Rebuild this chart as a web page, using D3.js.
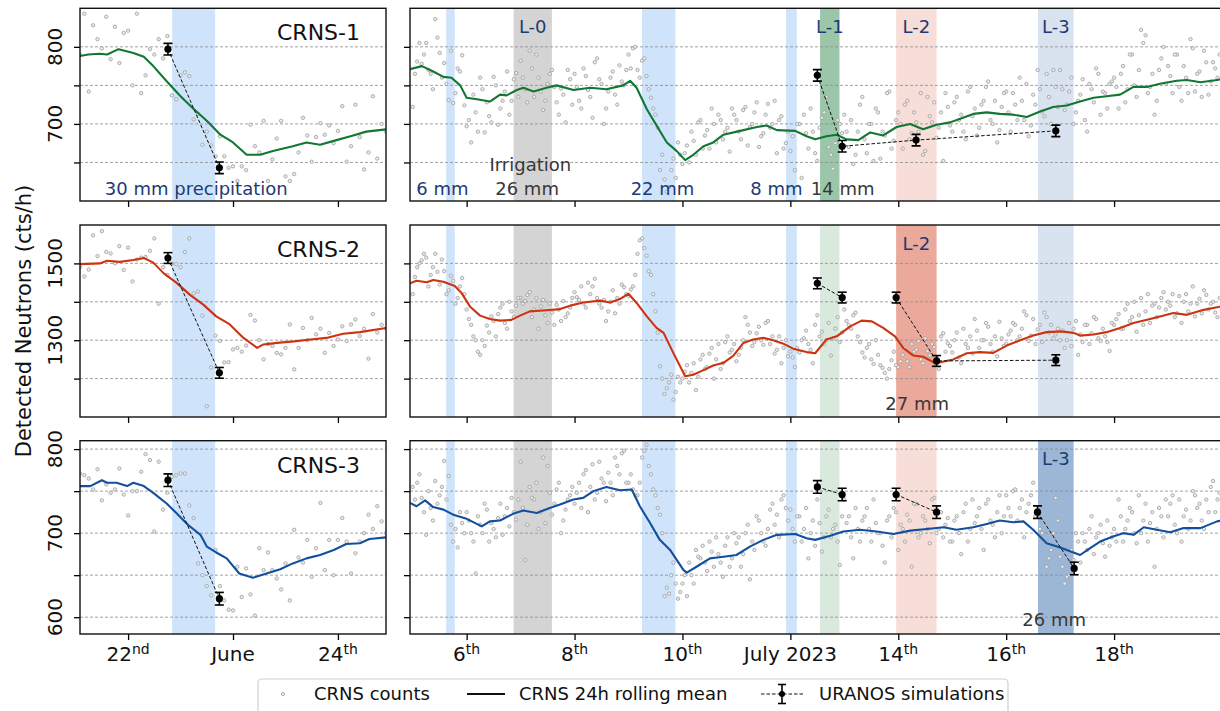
<!DOCTYPE html>
<html><head><meta charset="utf-8">
<script src="https://cdn.jsdelivr.net/npm/d3@7"></script>
<style>body{margin:0;background:#fff;overflow:hidden} svg{font-family:"DejaVu Sans",sans-serif;display:block}</style>
</head><body><svg id="c" width="1220" height="711"></svg>
<script>
// ---------------- DATA ----------------
// y-axis ticks per row
const yTicks1 = [650, 700, 750, 800], yLabels1 = [700, 800];
const yTicks2 = [1200, 1300, 1400, 1500], yLabels2 = [1300, 1500];
const yTicks3 = [600, 650, 700, 750, 800], yLabels3 = [600, 700, 800];
// x ticks (day of month) and labels [main, superscript]
const xTicksL = [22, 23, 24];
const xTickLabelsL = [["22", "nd"], ["June", ""], ["24", "th"]];
const xTicksR = [6, 8, 10, 12, 14, 16, 18];
const xTickLabelsR = [["6", "th"], ["8", "th"], ["10", "th"], ["July 2023", ""], ["14", "th"], ["16", "th"], ["18", "th"]];

// shaded periods (day of month)
const rainBandL = [22.42, 22.83];                       // June, 30 mm
const rainBandsR = [[5.62, 5.78], [9.25, 9.87], [11.92, 12.12]]; // July
const irrigNames = ["L-0", "L-1", "L-2", "L-3"];
const irrigBands = [[6.87, 7.58], [12.55, 12.91], [13.96, 14.71], [16.59, 17.25]];

// hourly CRNS counts, left panels: start June 21 13:00, 1 h step
const cnt1L = [790,843,742,828,810,798,839,784,826,779,818,821,750,843,740,763,797,790,810,785,814,737,732,763,767,762,706,713,673,690,672,658,684,658,643,645,626,645,640,699,671,663,704,626,654,681,704,632,626,635,663,708,685,651,683,701,686,698,675,691,723,651,671,725,683,641,663,736,655,700,690];
const cnt2L = [1490,1466,1484,1573,1519,1584,1530,1526,1500,1545,1483,1541,1453,1510,1515,1517,1533,1565,1395,1490,1470,1500,1498,1490,1530,1565,1422,1427,1364,1128,1229,1312,1298,1242,1243,1276,1280,1270,1286,1366,1351,1300,1250,1290,1285,1267,1263,1280,1341,1224,1280,1332,1300,1358,1315,1330,1267,1319,1285,1302,1336,1298,1341,1354,1311,1330,1252,1368,1320,1340,1330];
const cnt3L = [771,769,765,752,776,739,758,748,752,777,746,721,750,750,773,794,787,702,785,728,748,767,769,771,771,733,718,664,650,637,626,680,637,620,609,608,660,624,658,627,602,682,656,677,656,646,633,664,620,704,671,665,692,648,682,736,656,692,650,692,718,690,652,676,690,700,722,705,732,714,700];

// CRNS counts, right panels, even hours: start July 5 00:00, 2 h step
const cnt1R = [
722,781,778,805,765,836,792,779,731,727,772,789,
697,676,715,760,689,710,761,699,730,768,730,766,
782,745,795,735,760,718,752,770,728,746,702,758,
765,730,772,744,708,785,752,720,760,738,776,750,
790,798,770,782,762,734,712,640,628,618,655,676,
648,672,690,660,705,685,668,700,712,680,695,720,
705,680,722,696,715,670,688,726,700,662,710,675,
665,640,700,712,668,690,652,708,735,660,675,700,
712,670,648,690,735,662,700,720,655,685,742,678,
715,668,730,688,702,740,665,710,728,695,652,722,
690,735,712,680,748,720,695,730,755,700,676,722,
742,690,725,760,705,684,738,770,716,765,700,748,
770,718,742,700,730,758,690,745,772,712,740,752,
760,720,775,745,790,735,822,815,748,712,770,800,
775,740,790,730,760,810,742,768,795,738,780,760];
const cnt2R = [
1420,1490,1508,1515,1470,1525,1445,1480,1430,1455,1410,1462,
1380,1340,1300,1262,1285,1320,1350,1368,1395,1330,1375,1390,
1410,1402,1425,1380,1330,1405,1345,1372,1392,1350,1360,1385,
1425,1405,1395,1450,1440,1410,1385,1350,1400,1370,1395,1438,
1415,1440,1525,1565,1520,1470,1375,1232,1160,1190,1145,1205,
1200,1235,1215,1170,1250,1225,1265,1200,1290,1240,1310,1275,
1245,1280,1360,1320,1295,1335,1288,1350,1310,1275,1240,1300,
1270,1230,1268,1305,1290,1240,1365,1322,1300,1260,1330,1295,
1380,1340,1365,1310,1268,1280,1250,1300,1235,1215,1225,1270,
1230,1262,1245,1290,1275,1250,1305,1260,1282,1225,1318,1292,
1268,1320,1240,1290,1310,1355,1280,1300,1335,1270,1258,1305,
1290,1325,1340,1310,1375,1298,1355,1328,1295,1360,1340,1315,
1300,1280,1345,1330,1262,1295,1340,1318,1355,1298,1310,1272,
1340,1368,1330,1395,1360,1322,1410,1375,1345,1395,1385,1425,
1400,1420,1370,1345,1420,1395,1362,1408,1430,1380,1400,1360];
const cnt3R = [
755,760,742,698,730,762,745,786,768,690,683,712,
725,700,652,710,735,690,705,718,698,730,742,716,
785,668,755,740,705,790,780,722,752,700,728,745,
735,760,770,725,782,748,765,738,760,790,770,798,
760,752,745,790,805,770,745,722,625,628,665,622,
640,625,650,680,670,665,690,660,675,648,695,670,
688,660,700,645,680,715,690,705,735,722,740,730,
728,690,720,705,670,715,740,678,720,695,710,662,
740,720,670,705,715,730,690,712,700,665,720,730,
680,705,722,660,735,700,715,688,742,705,695,718,
690,720,675,735,705,712,730,680,740,710,725,700,
745,720,752,730,695,735,760,725,700,660,680,742,
672,640,650,668,690,700,680,720,695,710,672,685,
705,740,690,715,725,688,700,735,712,660,730,695,
720,745,700,690,728,715,745,735,705,725,762,740];
// CRNS counts, right panels, odd hours: start July 5 01:00, 2 h step
const cnt1Rodd = [
765,805,790,770,745,812,760,752,795,740,768,724,
705,738,690,745,728,702,750,720,742,712,758,735,
760,728,772,790,742,730,765,748,712,738,770,725,
748,720,762,735,780,758,700,742,768,725,755,770,
772,800,760,785,745,720,695,660,612,640,630,660,
662,650,678,702,668,692,720,676,705,690,664,712,
690,718,672,700,728,684,712,695,730,705,668,690,
684,700,630,688,720,662,695,715,670,642,705,688,
690,705,660,725,680,700,652,715,690,740,668,705,
700,725,680,715,690,660,735,702,682,715,740,698,
728,705,690,742,710,685,725,748,705,730,692,740,
715,740,705,730,752,698,725,745,710,735,770,722,
745,725,760,715,738,705,752,728,765,742,720,755,
748,765,728,790,750,770,805,740,765,730,785,752,
762,790,748,775,740,798,765,735,780,755,772,790];
const cnt2Rodd = [
1465,1500,1525,1440,1490,1478,1510,1420,1468,1395,1440,1420,
1355,1310,1270,1300,1338,1362,1310,1385,1345,1400,1360,1410,
1395,1418,1360,1410,1388,1365,1395,1340,1380,1402,1370,1410,
1412,1440,1385,1420,1460,1395,1405,1375,1430,1410,1445,1420,
1432,1470,1560,1540,1480,1420,1320,1200,1175,1210,1165,1190,
1218,1190,1240,1205,1262,1230,1280,1250,1225,1295,1268,1290,
1262,1300,1340,1285,1318,1300,1345,1290,1265,1310,1280,1258,
1255,1280,1300,1325,1275,1340,1310,1290,1345,1305,1360,1320,
1350,1330,1372,1295,1255,1290,1238,1262,1228,1200,1248,1235,
1245,1280,1230,1270,1298,1240,1272,1290,1255,1310,1270,1285,
1300,1255,1330,1280,1265,1325,1300,1345,1290,1310,1348,1285,
1315,1345,1300,1330,1365,1312,1290,1340,1372,1320,1305,1330,
1325,1300,1285,1350,1315,1340,1290,1360,1305,1330,1295,1345,
1355,1330,1380,1350,1400,1365,1340,1420,1390,1360,1410,1380,
1390,1360,1415,1400,1375,1440,1395,1370,1418,1395,1372,1410];
const cnt3Rodd = [
740,770,725,750,715,735,755,740,710,705,725,700,
715,690,720,700,728,712,695,735,720,708,725,740,
730,710,742,760,725,712,748,735,760,715,740,755,
748,730,775,755,740,785,760,772,745,780,795,760,
770,745,760,798,780,752,730,700,635,650,640,630,
650,665,640,672,685,655,678,695,665,685,660,700,
695,675,710,690,720,700,685,728,710,695,745,715,
705,720,690,730,700,685,712,695,728,705,690,720,
712,695,730,690,720,705,740,700,685,715,695,725,
710,690,715,735,695,720,705,740,700,725,710,690,
715,700,725,690,740,720,705,735,715,695,745,720,
730,750,715,740,725,745,720,705,690,670,700,715,
660,648,680,700,665,690,705,675,700,688,715,695,
690,720,705,730,700,745,715,690,725,705,720,740,
735,710,740,720,705,750,730,715,740,755,725,748];

// 24 h rolling means (day of month, value)
const mean1L_t = [21.54,21.62,21.73,21.80,21.91,22.05,22.15,22.24,22.37,22.50,22.62,22.75,22.88,23.00,23.13,23.26,23.38,23.57,23.70,23.83,23.96,24.12,24.27,24.46];
const mean1L_v = [788,790,791,790,797,792,787,775,755,736,720,704,686,676,660,660,665,671,676,673,678,684,690,693];
const mean1R_t = [4.95,5.17,5.38,5.57,5.72,5.88,6.00,6.19,6.43,6.62,6.74,6.93,7.05,7.24,7.48,7.67,7.98,8.29,8.59,8.90,9.03,9.15,9.34,9.52,9.71,9.89,10.05,10.20,10.39,10.57,10.76,11.07,11.38,11.56,11.75,12.09,12.30,12.46,12.67,12.86,13.04,13.26,13.48,13.72,13.97,14.22,14.46,14.71,14.96,15.20,15.39,15.64,15.88,16.13,16.38,16.63,16.87,17.12,17.37,17.62,17.86,18.11,18.36,18.61,18.85,19.16,19.35,19.60,19.91,20.0];
const mean1R_v = [771,775,768,761,760,750,734,732,729,738,737,744,747,742,747,750,744,747,745,750,756,747,719,698,676,665,653,660,671,676,686,691,696,698,692,691,684,680,684,686,680,679,689,685,696,700,693,699,702,708,713,715,713,712,709,716,722,724,729,734,736,738,748,748,752,756,757,754,757,758];
const mean2L_t = [21.54,21.73,21.80,21.92,22.05,22.15,22.24,22.34,22.46,22.59,22.72,22.84,22.97,23.10,23.23,23.29,23.42,23.58,23.74,23.89,24.05,24.21,24.46];
const mean2L_v = [1498,1500,1507,1504,1509,1514,1502,1474,1450,1418,1392,1362,1341,1306,1280,1289,1293,1297,1302,1306,1317,1321,1332];
const mean2R_t = [4.95,5.07,5.26,5.38,5.57,5.78,5.91,6.06,6.25,6.43,6.62,6.83,6.99,7.17,7.48,7.73,7.92,8.16,8.47,8.66,8.84,9.00,9.15,9.34,9.52,9.65,9.83,10.05,10.20,10.39,10.57,10.76,10.94,11.13,11.31,11.50,11.68,11.87,12.05,12.30,12.46,12.67,12.86,13.11,13.32,13.51,13.72,13.94,14.09,14.28,14.46,14.65,14.80,15.02,15.27,15.51,15.76,16.01,16.26,16.50,16.75,17.01,17.25,17.37,17.62,17.86,18.11,18.36,18.61,18.85,19.10,19.35,19.66,19.91,20.0];
const mean2R_v = [1448,1455,1451,1457,1452,1441,1422,1388,1364,1355,1351,1353,1364,1375,1378,1381,1390,1398,1403,1398,1407,1421,1397,1362,1332,1319,1267,1206,1210,1222,1234,1241,1259,1293,1302,1306,1300,1291,1278,1269,1266,1302,1310,1336,1351,1349,1332,1310,1280,1260,1257,1243,1243,1250,1266,1269,1267,1286,1300,1312,1321,1323,1319,1312,1315,1321,1332,1345,1353,1362,1371,1366,1379,1386,1388];
const mean3L_t = [21.54,21.64,21.75,21.80,21.89,21.99,22.05,22.15,22.24,22.37,22.46,22.57,22.69,22.75,22.84,22.94,23.06,23.19,23.32,23.45,23.57,23.70,23.83,23.96,24.08,24.21,24.30,24.46];
const mean3L_v = [756,756,763,760,760,756,760,756,748,735,724,710,698,684,677,670,652,647,652,657,664,670,674,680,687,688,693,695];
const mean3R_t = [4.95,5.07,5.23,5.38,5.57,5.75,6.00,6.28,6.43,6.62,6.86,7.05,7.30,7.54,7.73,7.98,8.16,8.35,8.59,8.84,9.06,9.21,9.40,9.58,9.77,10.02,10.08,10.26,10.51,10.76,11.00,11.25,11.50,11.75,12.09,12.30,12.46,12.74,12.98,13.29,13.60,13.91,14.22,14.53,14.84,15.08,15.39,15.64,15.88,16.13,16.32,16.50,16.75,17.00,17.37,17.55,17.74,17.98,18.17,18.36,18.55,18.79,19.04,19.29,19.60,19.91,20.0];
const mean3R_v = [736,732,739,731,728,722,717,708,714,715,723,727,724,730,734,740,742,750,755,751,752,732,712,692,680,656,653,660,670,672,674,684,692,698,699,694,692,697,702,704,702,699,703,705,707,704,707,711,715,713,714,704,688,683,674,682,690,696,700,698,707,704,701,706,706,714,715];

// URANOS simulations: segments of (day, value)
const sim1L_t = [[22.38, 22.87]], sim1L_v = [[797, 643]];
const sim1R_t = [[12.50, 12.96, 14.33, 16.92]], sim1R_v = [[763, 671, 679, 691]];
const sim2L_t = [[22.38, 22.87]], sim2L_v = [[1514, 1215]];
const sim2R_t = [[12.50, 12.96], [13.96, 14.71, 16.92]], sim2R_v = [[1448, 1411], [1411, 1246, 1248]];
const sim3L_t = [[22.38, 22.87]], sim3L_v = [[763, 622]];
const sim3R_t = [[12.50, 12.96], [13.96, 14.71], [16.58, 17.26]], sim3R_v = [[755, 746], [746, 725], [725, 658]];
const simErr = [7.5, 14, 7.5];

// ---------------- DRAWING ----------------
const svg = d3.select("#c");
const toDate = (m, d) => new Date(Date.UTC(2023, m, 1) + (d - 1) * 864e5);
const JUNE = 5, JULY = 6;
const xL = d3.scaleUtc().domain([toDate(JUNE, 21 + 13 / 24), toDate(JUNE, 24 + 11 / 24)]).range([80, 386]);
const xR = d3.scaleUtc().domain([toDate(JULY, 4.95), toDate(JULY, 20)]).range([410, 1222]);
const HOUR = 3600e3;
const cntStartL = toDate(JUNE, 21 + 13 / 24), cntStartR = toDate(JULY, 5);

const NAVY = "#1d3b72", DGREY = "#383838";
const irrigColors = ["#bdbdbd", "#117733", "#CC3311", "#12509e"];

const panels = [
  { name: "CRNS-1", top: 8.3, bottom: 201, domain: [600, 850], yTicks: yTicks1, yLabels: yLabels1, color: "#117733",
    cntL: cnt1L, cntR: cnt1R, cntRodd: cnt1Rodd, meanL: [mean1L_t, mean1L_v], meanR: [mean1R_t, mean1R_v],
    simL: [sim1L_t, sim1L_v], simR: [sim1R_t, sim1R_v], err: simErr[0], active: 1, lLabels: [0, 1, 2, 3] },
  { name: "CRNS-2", top: 225, bottom: 417, domain: [1100, 1600], yTicks: yTicks2, yLabels: yLabels2, color: "#CC3311",
    cntL: cnt2L, cntR: cnt2R, cntRodd: cnt2Rodd, meanL: [mean2L_t, mean2L_v], meanR: [mean2R_t, mean2R_v],
    simL: [sim2L_t, sim2L_v], simR: [sim2R_t, sim2R_v], err: simErr[1], active: 2, lLabels: [2] },
  { name: "CRNS-3", top: 440.7, bottom: 634, domain: [580, 810], yTicks: yTicks3, yLabels: yLabels3, color: "#12509e",
    cntL: cnt3L, cntR: cnt3R, cntRodd: cnt3Rodd, meanL: [mean3L_t, mean3L_v], meanR: [mean3R_t, mean3R_v],
    simL: [sim3L_t, sim3L_v], simR: [sim3R_t, sim3R_v], err: simErr[2], active: 3, lLabels: [3] }
];

const defs = svg.append("defs");

function drawSide(p, pi, side) {
  const isL = side === "L";
  const x = isL ? xL : xR;
  const month = isL ? JUNE : JULY;
  const [x0, x1] = x.range();
  const y = d3.scaleLinear().domain(p.domain).range([p.bottom, p.top]);
  const clipId = "clip" + pi + side;
  defs.append("clipPath").attr("id", clipId).append("rect")
    .attr("x", x0).attr("y", p.top).attr("width", x1 - x0).attr("height", p.bottom - p.top);
  const g = svg.append("g").attr("clip-path", `url(#${clipId})`);

  // bands
  const band = (t, fill, op) => g.append("rect")
    .attr("x", x(toDate(month, t[0]))).attr("width", x(toDate(month, t[1])) - x(toDate(month, t[0])))
    .attr("y", p.top).attr("height", p.bottom - p.top).attr("fill", fill).attr("fill-opacity", op);
  if (isL) {
    band(rainBandL, "#cfe4fb", 1);
  } else {
    rainBandsR.forEach(b => band(b, "#cfe4fb", 1));
    irrigBands.forEach((b, i) => {
      if (i === 0) band(b, "#d4d4d4", 1);
      else band(b, irrigColors[i], i === p.active ? 0.42 : 0.16);
    });
  }

  // grid
  g.selectAll(null).data(p.yTicks).join("line")
    .attr("x1", x0).attr("x2", x1).attr("y1", d => y(d)).attr("y2", d => y(d))
    .attr("stroke", "#8c8c8c").attr("stroke-width", 0.8).attr("stroke-dasharray", "3,2");

  // counts
  const series = isL
    ? [{ v: p.cntL, start: cntStartL, step: HOUR }]
    : [{ v: p.cntR, start: cntStartR, step: 2 * HOUR }, { v: p.cntRodd, start: new Date(+cntStartR + HOUR), step: 2 * HOUR }];
  series.forEach(s => {
    g.selectAll(null).data(s.v).join("circle")
      .attr("cx", (d, i) => x(new Date(+s.start + i * s.step))).attr("cy", d => y(d)).attr("r", 1.7)
      .attr("fill", "#ececec").attr("stroke", "#9c9c9c").attr("stroke-width", 0.8);
  });

  // rolling mean
  const [mt, mv] = isL ? p.meanL : p.meanR;
  const line = d3.line().x(d => x(toDate(month, d[0]))).y(d => y(d[1]));
  g.append("path").datum(mt.map((t, i) => [t, mv[i]])).attr("d", line)
    .attr("fill", "none").attr("stroke", p.color).attr("stroke-width", 2.1).attr("stroke-linejoin", "round");

  // simulations
  const [st, sv] = isL ? p.simL : p.simR;
  st.forEach((seg, si) => {
    const pts = seg.map((t, i) => [t, sv[si][i]]);
    g.append("path").datum(pts).attr("d", line).attr("fill", "none")
      .attr("stroke", "#111").attr("stroke-width", 1).attr("stroke-dasharray", "3.5,2");
    pts.forEach(([t, v]) => {
      const cx = x(toDate(month, t));
      const yt = y(v + p.err), yb = y(v - p.err);
      g.append("line").attr("x1", cx).attr("x2", cx).attr("y1", yt).attr("y2", yb).attr("stroke", "#000").attr("stroke-width", 1.6);
      [yt, yb].forEach(yy => g.append("line").attr("x1", cx - 4.5).attr("x2", cx + 4.5).attr("y1", yy).attr("y2", yy)
        .attr("stroke", "#000").attr("stroke-width", 1.6));
      g.append("circle").attr("cx", cx).attr("cy", y(v)).attr("r", 3.6).attr("fill", "#000");
    });
  });

  // axes
  const xa = svg.append("g").attr("transform", `translate(0,${p.bottom})`)
    .call(d3.axisBottom(x).tickValues((isL ? xTicksL : xTicksR).map(d => toDate(month, d))).tickSize(6).tickFormat(""));
  const ya = svg.append("g").attr("transform", `translate(${x0},0)`)
    .call(d3.axisLeft(y).tickValues(p.yTicks).tickSize(6).tickFormat(""));
  [xa, ya].forEach(a => { a.select(".domain").remove(); a.selectAll(".tick line").attr("stroke", "#000").attr("stroke-width", 1.3); });

  if (isL) {
    p.yLabels.forEach(v => {
      svg.append("text").attr("transform", `translate(${x0 - 18},${y(v)}) rotate(-90)`)
        .attr("text-anchor", "middle").attr("font-size", 20).attr("fill", "#111").text(v);
    });
  }
  if (pi === 2) {
    const tv = isL ? xTicksL : xTicksR, tl = isL ? xTickLabelsL : xTickLabelsR;
    tv.forEach((d, i) => {
      const t = svg.append("text").attr("x", x(toDate(month, d))).attr("y", 661)
        .attr("text-anchor", "middle").attr("font-size", 20).attr("fill", "#111");
      t.append("tspan").text(tl[i][0]);
      if (tl[i][1]) t.append("tspan").attr("font-size", 14).attr("dy", -7).text(tl[i][1]);
    });
  }

  // frame
  svg.append("rect").attr("x", x0).attr("y", p.top).attr("width", x1 - x0).attr("height", p.bottom - p.top)
    .attr("fill", "none").attr("stroke", "#111").attr("stroke-width", 1.4);

  // annotations
  const ann = (d, dy, txt, col, size) => svg.append("text").attr("x", x(toDate(month, d))).attr("y", p.top + dy)
    .attr("text-anchor", "middle").attr("font-size", size || 18).attr("fill", col).text(txt);
  if (isL) {
    svg.append("text").attr("x", 360).attr("y", p.top + 32).attr("text-anchor", "end")
      .attr("font-size", 22).attr("fill", "#111").text(p.name);
    if (pi === 0) ann(22.65, 186.5, "30 mm precipitation", NAVY);
  } else {
    p.lLabels.forEach(i => ann((irrigBands[i][0] + irrigBands[i][1]) / 2, 24.5, irrigNames[i], NAVY));
    if (pi === 0) {
      ann(5.55, 186.5, "6 mm", NAVY);
      ann(7.18, 162.5, "Irrigation", DGREY);
      ann(7.12, 186.5, "26 mm", DGREY);
      ann(9.63, 186.5, "22 mm", NAVY);
      ann(11.74, 186.5, "8 mm", NAVY);
      ann(12.97, 186.5, "14 mm", DGREY);
    }
    if (pi === 1) ann(14.35, 185, "27 mm", DGREY);
    if (pi === 2) ann(16.89, 185.5, "26 mm", DGREY);
  }
}

panels.forEach((p, pi) => { drawSide(p, pi, "L"); drawSide(p, pi, "R"); });

// y label
svg.append("text").attr("transform", "translate(31,321) rotate(-90)").attr("text-anchor", "middle")
  .attr("font-size", 21).attr("fill", "#111").text("Detected Neutrons (cts/h)");

// legend
const lg = svg.append("g");
lg.append("rect").attr("x", 258).attr("y", 679).attr("width", 750).attr("height", 42).attr("rx", 4)
  .attr("fill", "#fff").attr("stroke", "#d0d0d0").attr("stroke-width", 1.2);
lg.append("circle").attr("cx", 283).attr("cy", 694).attr("r", 1.6).attr("fill", "#ececec").attr("stroke", "#9c9c9c").attr("stroke-width", 0.8);
lg.append("text").attr("x", 314).attr("y", 700).attr("font-size", 18).attr("fill", "#111").text("CRNS counts");
lg.append("line").attr("x1", 467).attr("x2", 505).attr("y1", 694).attr("y2", 694).attr("stroke", "#111").attr("stroke-width", 2.1);
lg.append("text").attr("x", 519).attr("y", 700).attr("font-size", 18).attr("fill", "#111").text("CRNS 24h rolling mean");
lg.append("line").attr("x1", 761).attr("x2", 803).attr("y1", 694).attr("y2", 694).attr("stroke", "#111").attr("stroke-width", 1).attr("stroke-dasharray", "3.5,2");
lg.append("line").attr("x1", 782).attr("x2", 782).attr("y1", 684.5).attr("y2", 703.5).attr("stroke", "#000").attr("stroke-width", 1.6);
[684.5, 703.5].forEach(yy => lg.append("line").attr("x1", 778).attr("x2", 786).attr("y1", yy).attr("y2", yy).attr("stroke", "#000").attr("stroke-width", 1.6));
lg.append("circle").attr("cx", 782).attr("cy", 694).attr("r", 3).attr("fill", "#000");
lg.append("text").attr("x", 819).attr("y", 700).attr("font-size", 18).attr("fill", "#111").text("URANOS simulations");
</script>
</body></html>
